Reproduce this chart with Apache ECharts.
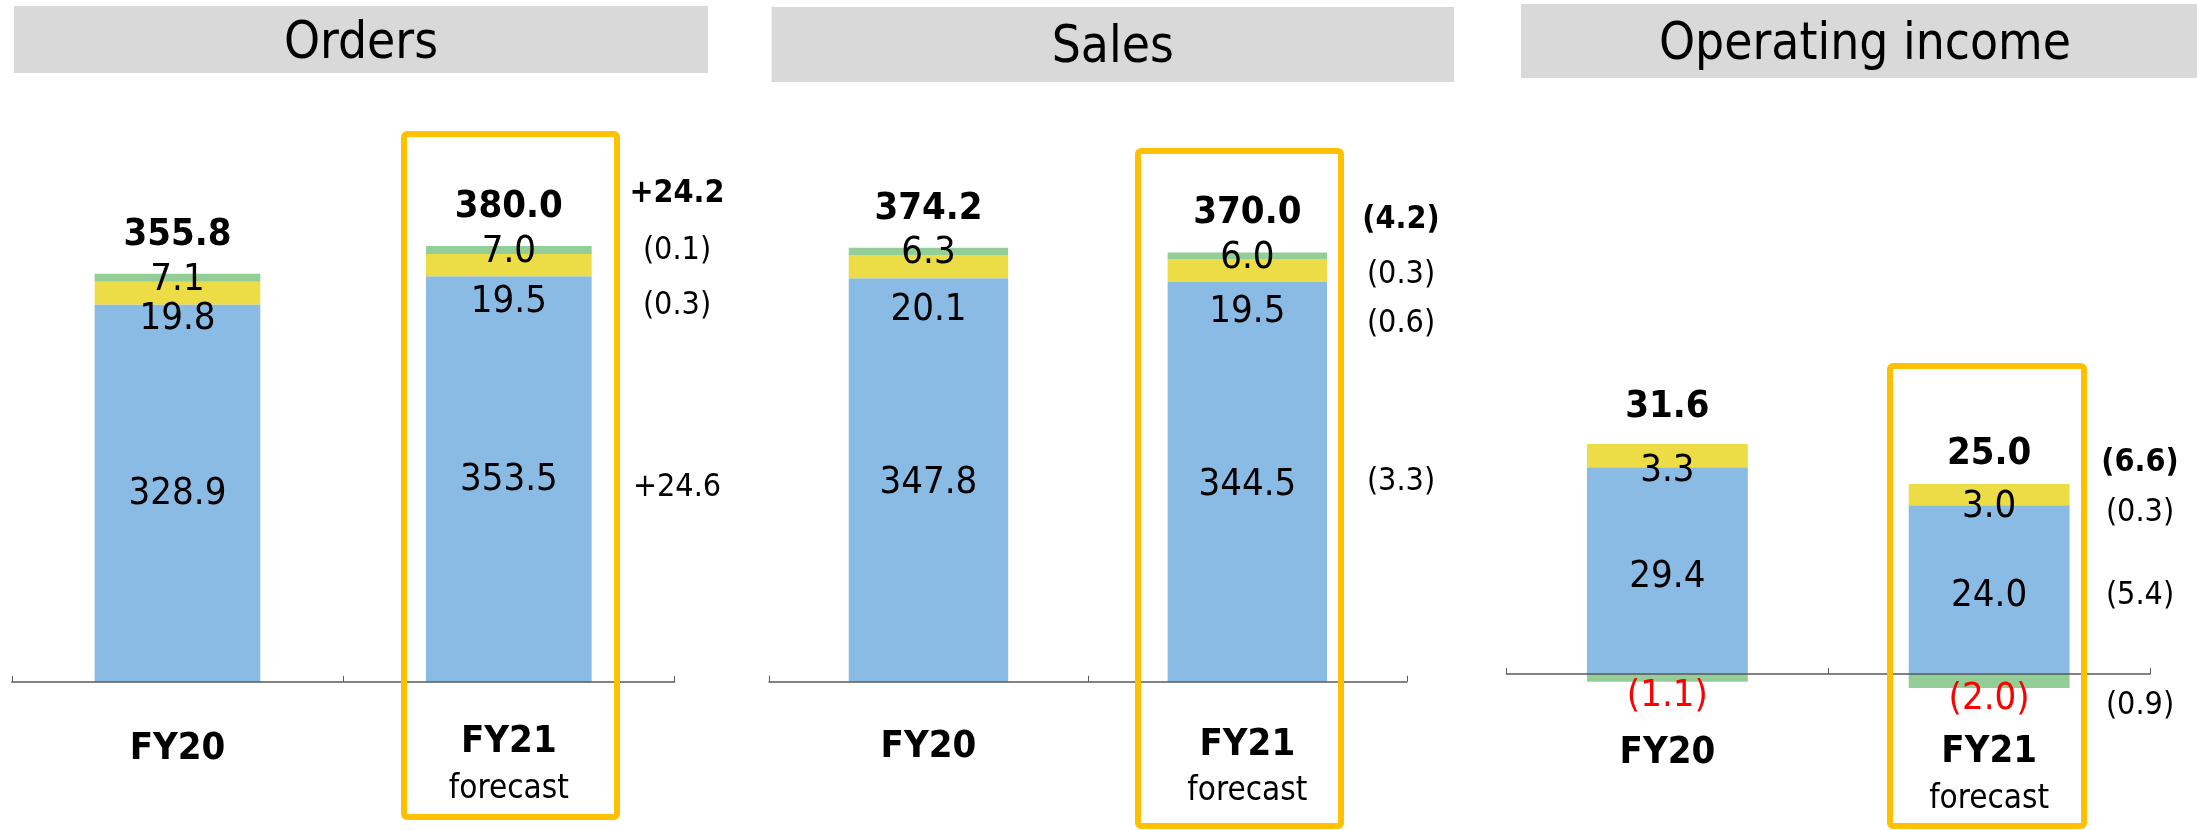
<!DOCTYPE html>
<html>
<head>
<meta charset="utf-8">
<title>Orders / Sales / Operating income</title>
<script src="https://cdn.jsdelivr.net/npm/echarts@6/dist/echarts.min.js"></script>
<style>
  html, body { margin: 0; padding: 0; background: #fff; }
  #main { width: 2197px; height: 830px; }
</style>
</head>
<body>
<div id="main"></div>
<script>
  // data
  var categories = ['FY20', 'FY21'];
  var categorySub = ['', 'forecast'];
  var panelTitles = ['Orders', 'Sales', 'Operating income'];

  var ordersBlue = [328.9, 353.5];
  var ordersYellow = [19.8, 19.5];
  var ordersGreen = [7.1, 7.0];
  var ordersDiff = ['+24.2', '(0.1)', '(0.3)', '+24.6'];

  var salesBlue = [347.8, 344.5];
  var salesYellow = [20.1, 19.5];
  var salesGreen = [6.3, 6.0];
  var salesDiff = ['(4.2)', '(0.3)', '(0.6)', '(3.3)'];

  var opBlue = [29.4, 24.0];
  var opYellow = [3.3, 3.0];
  var opGreen = [-1.1, -2.0];
  var opDiff = ['(6.6)', '(0.3)', '(5.4)', '(0.9)'];

  var FONT = "'DejaVu Sans Condensed', 'DejaVu Sans', sans-serif";
  var BLUE = '#8abbe4', YELLOW = '#ecdd47', GREEN = '#93ce98', ORANGE = '#ffc000';

  // layout of each panel (pixels)
  var panels = [
    {
      title: panelTitles[0], blue: ordersBlue, yellow: ordersYellow, green: ordersGreen, diff: ordersDiff,
      grid: { left: 11.8, top: 223, width: 662.7, height: 459 }, yMin: 0, yMax: 400,
      blueShift: 1, yellowShift: [26, 37], totalDist: [20, 20], labelMargin: 35, fy20Height: 65,
      titleBox: [14, 6, 694, 67], titleY: 45,
      frame: [404, 134, 213, 683],
      diffX: 677, diffY: [194, 251, 306, 488]
    },
    {
      title: panelTitles[1], blue: salesBlue, yellow: salesYellow, green: salesGreen, diff: salesDiff,
      grid: { left: 769, top: 217.7, width: 637.8, height: 464 }, yMin: 0, yMax: 400,
      blueShift: 3, yellowShift: [44, 41], totalDist: [20, 20], labelMargin: 38, fy20Height: 54,
      titleBox: [771.5, 7, 682.5, 75], titleY: 49,
      frame: [1138, 151, 203, 675],
      diffX: 1401, diffY: [220, 275, 324, 482]
    },
    {
      title: panelTitles[2], blue: opBlue, yellow: opYellow, green: opGreen, diff: opDiff,
      grid: { left: 1506.5, top: 392.6, width: 643.5, height: 351.75 }, yMin: -10, yMax: 40,
      blueShift: 7, yellowShift: [16, 13], totalDist: [18, 11], labelMargin: -17, fy20Height: 52,
      titleBox: [1521, 4, 680, 74], titleY: 46,
      frame: [1890, 366, 194, 460],
      diffX: 2140, diffY: [463, 513, 596, 706]
    }
  ];

  function fmt(v) {
    return v < 0 ? '(' + Math.abs(v).toFixed(1) + ')' : v.toFixed(1);
  }

  var grids = [], xAxes = [], yAxes = [], series = [], graphics = [];

  panels.forEach(function (p, i) {
    grids.push(Object.assign({ outerBoundsMode: 'none', containLabel: false }, p.grid));

    xAxes.push({
      type: 'category',
      gridIndex: i,
      data: categories,
      z: 10,
      axisLine: { onZero: true, lineStyle: { color: '#5a5a5a', width: 1.5 } },
      axisTick: { show: true, inside: true, length: 6, lineStyle: { color: '#5a5a5a' } },
      axisLabel: {
        interval: 0,
        margin: p.labelMargin,
        color: '#000',
        fontFamily: FONT,
        formatter: function (value, idx) {
          if (categorySub[idx]) return '{fy|' + value + '}\n{fc|' + categorySub[idx] + '}';
          return '{fy0|' + value + '}';
        },
        rich: {
          fy0: { fontFamily: FONT, fontWeight: 'bold', fontSize: 38, lineHeight: p.fy20Height, color: '#000' },
          fy: { fontFamily: FONT, fontWeight: 'bold', fontSize: 38, lineHeight: 50, color: '#000' },
          fc: { fontFamily: FONT, fontSize: 33, lineHeight: 44, color: '#000' }
        }
      }
    });

    yAxes.push({ type: 'value', gridIndex: i, min: p.yMin, max: p.yMax, show: false, splitLine: { show: false } });

    var stackName = 'stack' + i;
    var common = { type: 'bar', xAxisIndex: i, yAxisIndex: i, barWidth: '50%', barGap: '-100%', silent: true };

    series.push(Object.assign({}, common, {
      name: 'blue' + i, stack: stackName, data: p.blue,
      itemStyle: { color: BLUE },
      label: { show: true, position: 'inside', offset: [0, p.blueShift], color: '#000', fontFamily: FONT, fontSize: 38,
        formatter: function (d) { return fmt(d.value); } }
    }));

    series.push(Object.assign({}, common, {
      name: 'yellow' + i, stack: stackName,
      data: p.yellow.map(function (v, k) {
        return { value: v, label: { offset: [0, p.yellowShift[k]] } };
      }),
      itemStyle: { color: YELLOW },
      label: { show: true, position: 'inside', color: '#000', fontFamily: FONT, fontSize: 38,
        formatter: function (d) { return fmt(d.value); } }
    }));

    // negative values shown in red just below the axis
    series.push(Object.assign({}, common, {
      name: 'green' + i, stack: stackName,
      data: p.green.map(function (v) {
        return v < 0 ? { value: v, label: { color: '#ff0000', offset: [0, 18] } } : v;
      }),
      itemStyle: { color: GREEN },
      label: { show: true, position: 'inside', offset: [0, 2], color: '#000', fontFamily: FONT, fontSize: 38,
        formatter: function (d) { return fmt(d.value); } }
    }));

    // invisible bar carrying the total label on top of the positive stack
    var totals = p.blue.map(function (v, k) { return v + p.yellow[k] + p.green[k]; });
    var posTop = p.blue.map(function (v, k) {
      return Math.max(v, 0) + Math.max(p.yellow[k], 0) + Math.max(p.green[k], 0);
    });
    series.push(Object.assign({}, common, {
      name: 'total' + i,
      data: posTop.map(function (v, k) {
        return { value: v, label: { distance: p.totalDist[k] } };
      }),
      itemStyle: { color: 'rgba(0,0,0,0)' },
      label: { show: true, position: 'top', color: '#000', fontFamily: FONT, fontSize: 38, fontWeight: 'bold',
        formatter: function (d) { return totals[d.dataIndex].toFixed(1); } }
    }));

    // title bar
    graphics.push({
      type: 'rect', silent: true, z: 1,
      shape: { x: p.titleBox[0], y: p.titleBox[1], width: p.titleBox[2], height: p.titleBox[3] },
      style: { fill: '#d9d9d9' }
    });
    graphics.push({
      type: 'text', silent: true, z: 2,
      x: p.titleBox[0] + p.titleBox[2] / 2 + (i === 2 ? 4 : 0), y: p.titleY,
      style: { text: p.title, font: '51px ' + FONT, fill: '#000', align: 'center', verticalAlign: 'middle' }
    });

    // forecast highlight frame
    graphics.push({
      type: 'rect', silent: true, z: 20,
      shape: { x: p.frame[0], y: p.frame[1], width: p.frame[2], height: p.frame[3], r: 3 },
      style: { fill: null, stroke: ORANGE, lineWidth: 6 }
    });

    // year-on-year differences at the right of each panel
    p.diff.forEach(function (t, k) {
      graphics.push({
        type: 'text', silent: true, z: 20,
        x: p.diffX, y: p.diffY[k],
        style: { text: t, font: (k === 0 ? 'bold 32px ' : '32px ') + FONT, fill: '#000', align: 'center', verticalAlign: 'middle' }
      });
    });
  });

  var myChart = echarts.init(document.getElementById('main'));
  myChart.setOption({
    animation: false,
    backgroundColor: '#fff',
    grid: grids,
    xAxis: xAxes,
    yAxis: yAxes,
    series: series,
    graphic: graphics
  });
</script>
</body>
</html>
